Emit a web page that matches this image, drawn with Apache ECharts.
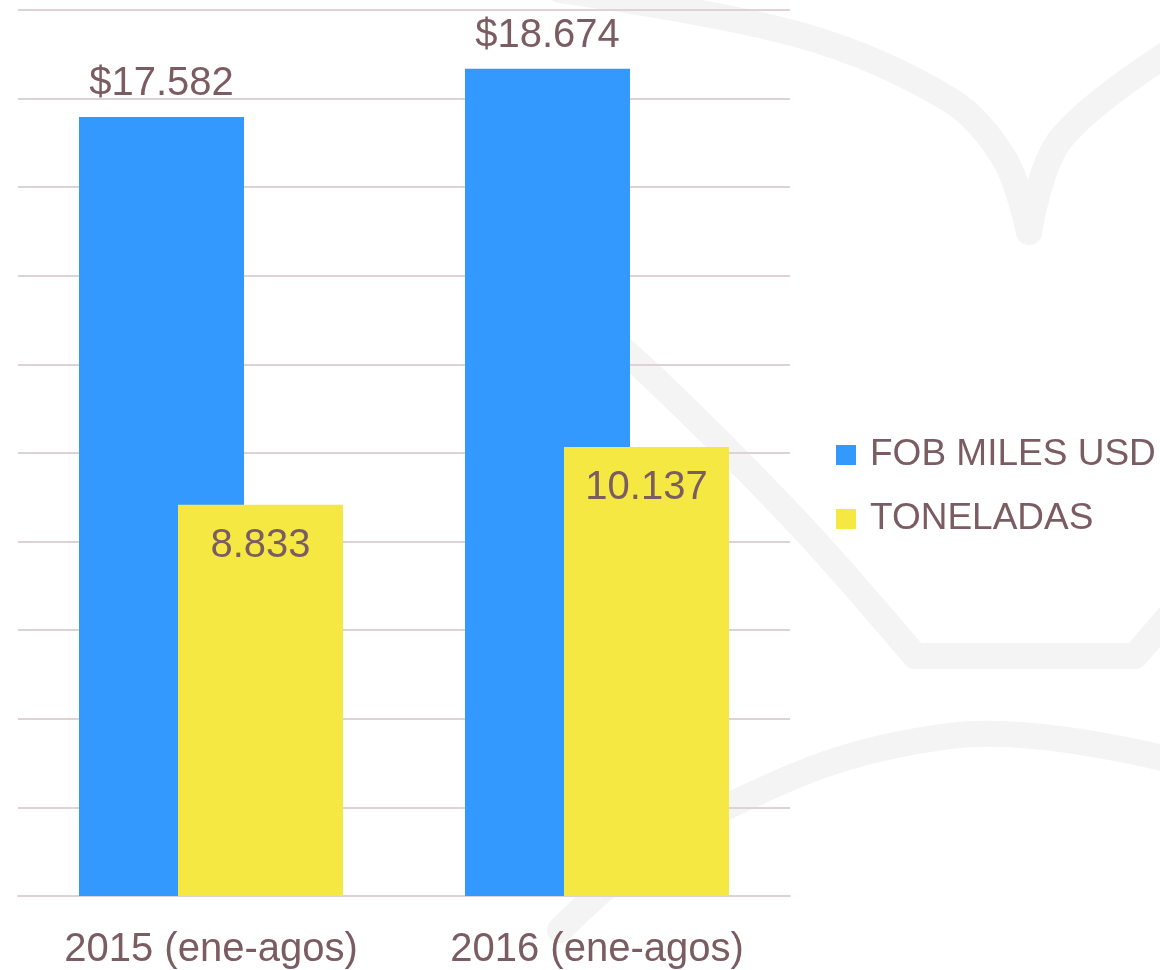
<!DOCTYPE html>
<html>
<head>
<meta charset="utf-8">
<script src="https://cdn.jsdelivr.net/npm/echarts@6/dist/echarts.min.js"></script>
<style>
  html, body { margin: 0; padding: 0; background: #fff; }
  #chart { width: 1160px; height: 970px; }
</style>
</head>
<body>
<div id="chart"></div>
<script>
// datos de exportación (ene-agos)
const categorias = ['2015 (ene-agos)', '2016 (ene-agos)'];
const fobMilesUsd = [17582, 18674];
const toneladas = [8833, 10137];
const nombres = ['FOB MILES USD', 'TONELADAS'];

const textoColor = '#7a5c62';
const fuente = '"Liberation Sans", Arial, sans-serif';

// formato con punto de miles
function miles(v) {
    return String(v).replace(/\B(?=(\d{3})+(?!\d))/g, '.');
}

let chart = echarts.init(document.getElementById('chart'));

// marca de agua (libro) muy tenue
let fondo = {
    type: 'polyline',
    silent: true,
    z: -10,
    style: { stroke: '#f5f4f4', lineWidth: 26, fill: null, lineCap: 'round', lineJoin: 'round' }
};
let graficos = [
    Object.assign({}, fondo, { shape: { smooth: 0.35, points: [[560, -10], [800, 35], [950, 100], [1005, 160], [1029, 232]] } }),
    Object.assign({}, fondo, { shape: { smooth: 0.35, points: [[1029, 232], [1060, 140], [1170, 52]] } }),
    Object.assign({}, fondo, { shape: { smooth: 0.3, points: [[560, 300], [640, 365], [800, 525], [915, 656]] } }),
    Object.assign({}, fondo, { shape: { smooth: 0, points: [[915, 656], [1135, 656], [1170, 615]] } }),
    Object.assign({}, fondo, { shape: { smooth: 0.4, points: [[560, 930], [700, 820], [950, 736], [1170, 760]] } })
];

let option = {
    animation: false,
    backgroundColor: '#fff',
    graphic: graficos,
    grid: { left: 18, right: 370, top: 10, bottom: 74, containLabel: false },
    legend: {
        orient: 'vertical',
        left: 836,
        top: 433,
        padding: 0,
        itemWidth: 20,
        itemHeight: 20,
        itemGap: 20,
        icon: 'rect',
        textStyle: { color: textoColor, fontSize: 37, fontFamily: fuente, lineHeight: 44, padding: [0, 0, 0, 9] },
        data: nombres
    },
    xAxis: {
        type: 'category',
        data: categorias,
        axisTick: { show: false },
        axisLine: { lineStyle: { color: '#ddd3d5', width: 2 } },
        axisLabel: { color: textoColor, fontSize: 40, fontFamily: fuente, margin: 34 }
    },
    yAxis: {
        type: 'value',
        min: 0,
        max: 20000,
        interval: 2000,
        axisLabel: { show: false },
        axisLine: { show: false },
        axisTick: { show: false },
        splitLine: { lineStyle: { color: '#ddd3d5', width: 2 } }
    },
    series: [
        {
            name: nombres[0],
            type: 'bar',
            data: fobMilesUsd,
            barWidth: 165,
            barGap: '-40%',
            itemStyle: { color: '#3399fe' },
            label: {
                show: true,
                position: 'top',
                distance: 13,
                color: textoColor,
                fontSize: 40,
                fontFamily: fuente,
                formatter: p => '$' + miles(p.value)
            }
        },
        {
            name: nombres[1],
            type: 'bar',
            data: toneladas,
            barWidth: 165,
            barGap: '-40%',
            itemStyle: { color: '#f6e843' },
            label: {
                show: true,
                position: 'insideTop',
                distance: 21,
                color: textoColor,
                fontSize: 40,
                fontFamily: fuente,
                formatter: p => miles(p.value)
            }
        }
    ]
};
chart.setOption(option);
</script>
</body>
</html>
